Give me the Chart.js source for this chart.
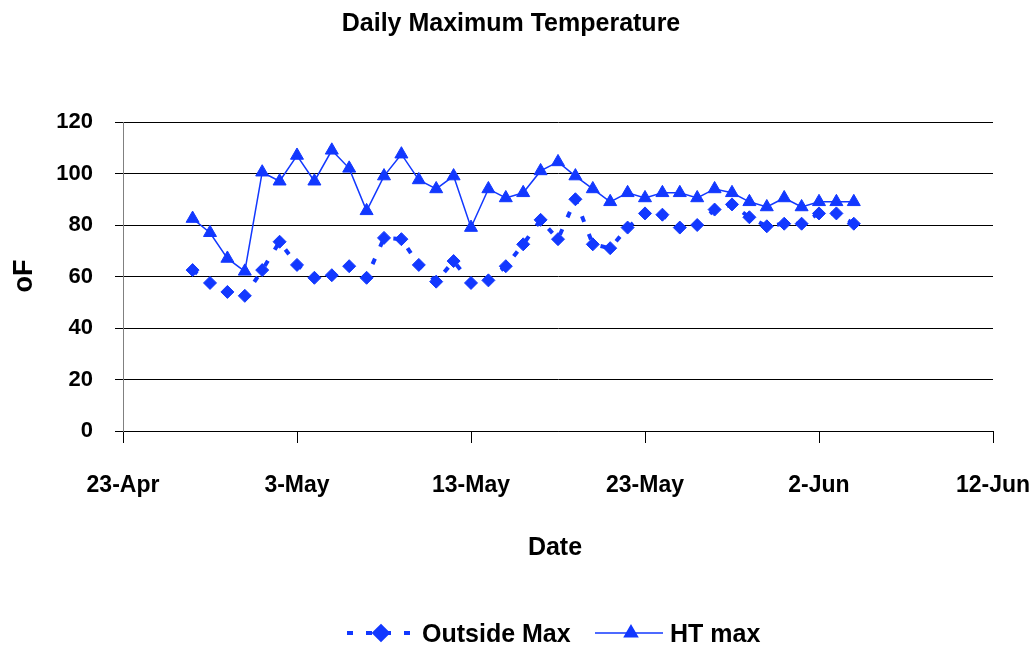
<!DOCTYPE html>
<html>
<head>
<meta charset="utf-8">
<script src="https://cdn.jsdelivr.net/npm/chart.js@4/dist/chart.umd.min.js"></script>
<style>
  html, body { margin: 0; padding: 0; background: #fff; }
  #wrap { width: 1031px; height: 647px; position: relative; }
</style>
</head>
<body>
<div id="wrap"><canvas id="c" width="1031" height="647"></canvas></div>
<script>
// Days after 23-Apr for each reading (27-Apr .. 4-Jun)
const dayOffsets = [4, 5, 6, 7, 8, 9, 10, 11, 12, 13, 14, 15, 16, 17, 18, 19, 20, 21, 22, 23,
                    24, 25, 26, 27, 28, 29, 30, 31, 32, 33, 34, 35, 36, 37, 38, 39, 40, 41, 42];
const outsideMax = [62.5, 57.5, 54, 52.5, 62.5, 73.5, 64.5, 59.5, 60.5, 64, 59.5, 75, 74.5, 64.5, 58, 66, 57.5, 58.5, 64, 72.5,
                    82, 74.5, 90, 72.5, 71, 79, 84.5, 84, 79, 80, 86, 88, 83, 79.5, 80.5, 80.5, 84.5, 84.5, 80.5];
const htMax      = [82.5, 77, 67, 62, 100.5, 97, 107, 97, 109, 102, 85.5, 99, 107.5, 97.5, 94, 99, 79, 94, 90.5, 92.5,
                    101, 104.5, 99, 94, 89, 92.5, 90.5, 92.5, 92.5, 90.5, 94, 92.5, 89, 87, 90.5, 87, 89, 89, 89];
const xTickLabels = ['23-Apr', '3-May', '13-May', '23-May', '2-Jun', '12-Jun'];
const seriesNames = ['Outside Max', 'HT max'];
const titleText = 'Daily Maximum Temperature';
const xTitle = 'Date';
const yTitle = 'oF';

const BLUE = '#1238ff';
const FONT = '"Liberation Sans", Arial, sans-serif';

const pts = (ys) => dayOffsets.map((d, i) => ({ x: d, y: ys[i] }));

const decor = {
  id: 'decor',
  afterDraw(chart) {
    const ctx = chart.ctx;
    ctx.save();
    ctx.fillStyle = '#000';
    ctx.textBaseline = 'alphabetic';
    // title
    ctx.font = 'bold 25px ' + FONT;
    ctx.textAlign = 'center';
    ctx.fillText(titleText, 511, 31);
    // x title
    ctx.fillText(xTitle, 555, 555);
    // y title
    ctx.save();
    ctx.translate(32, 276);
    ctx.rotate(-Math.PI / 2);
    ctx.font = 'bold 27px ' + FONT;
    ctx.fillText(yTitle, 0, 0);
    ctx.restore();
    // legend
    const ly = 633;
    ctx.strokeStyle = BLUE;
    ctx.fillStyle = BLUE;
    ctx.lineWidth = 4;
    ctx.setLineDash([6, 13]);
    ctx.beginPath(); ctx.moveTo(347, ly); ctx.lineTo(414, ly); ctx.stroke();
    ctx.setLineDash([]);
    Chart.helpers.drawPoint(ctx, { pointStyle: 'rectRot', radius: 6.5, borderWidth: 1 }, 381, ly);
    ctx.lineWidth = 1.5;
    ctx.beginPath(); ctx.moveTo(595, ly); ctx.lineTo(663, ly); ctx.stroke();
    Chart.helpers.drawPoint(ctx, { pointStyle: 'triangle', radius: 7.5, borderWidth: 1 }, 631, ly);
    ctx.fillStyle = '#000';
    ctx.textAlign = 'left';
    ctx.font = 'bold 25px ' + FONT;
    ctx.fillText(seriesNames[0], 422, 642);
    ctx.fillText(seriesNames[1], 670, 642);
    ctx.restore();
  }
};

new Chart(document.getElementById('c'), {
  type: 'line',
  data: {
    datasets: [
      {
        label: seriesNames[0],
        data: pts(outsideMax),
        borderColor: BLUE,
        backgroundColor: BLUE,
        borderWidth: 4,
        borderDash: [6, 13],
        pointStyle: 'rectRot',
        pointRadius: 6.5,
        pointBorderWidth: 1,
        tension: 0
      },
      {
        label: seriesNames[1],
        data: pts(htMax),
        borderColor: BLUE,
        backgroundColor: BLUE,
        borderWidth: 1.5,
        pointStyle: 'triangle',
        pointRadius: 7.5,
        pointBorderWidth: 1,
        tension: 0
      }
    ]
  },
  options: {
    responsive: false,
    animation: false,
    devicePixelRatio: 1,
    layout: { padding: { top: 122, right: 38, bottom: 0, left: 0 } },
    plugins: {
      legend: { display: false },
      title: { display: false },
      tooltip: { enabled: false }
    },
    scales: {
      x: {
        type: 'linear',
        min: 0, max: 50,
        afterFit(s) { s.height = 216; s.paddingLeft = 0; s.paddingRight = 0; },
        afterBuildTicks(s) { s.ticks = xTickLabels.map((_, i) => ({ value: i * 10 })); },
        ticks: {
          callback: (v) => xTickLabels[Math.round(v / 10)],
          color: '#000',
          font: { family: FONT, size: 23, weight: 'bold' },
          padding: 29,
          maxRotation: 0,
          autoSkip: false
        },
        grid: { display: true, drawOnChartArea: false, drawTicks: true, tickLength: 12, color: '#000' },
        border: { color: '#000', width: 1 }
      },
      y: {
        min: 0, max: 120,
        afterFit(s) { s.width = 123; s.paddingTop = 0; s.paddingBottom = 0; },
        ticks: {
          stepSize: 20,
          color: '#000',
          font: { family: FONT, size: 22, weight: 'bold' },
          padding: 22
        },
        grid: { color: '#000', lineWidth: 1, tickLength: 8, drawTicks: true },
        border: { color: '#808080', width: 1 }
      }
    }
  },
  plugins: [decor]
});
</script>
</body>
</html>
